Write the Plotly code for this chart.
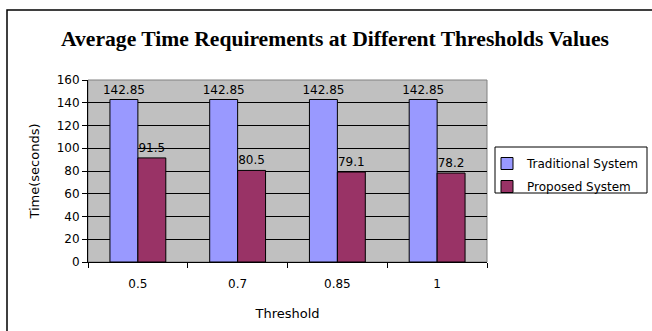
import plotly.graph_objects as go

# Threshold categories and average time (seconds) per system
thresholds = ["0.5", "0.7", "0.85", "1"]
traditional = [142.85, 142.85, 142.85, 142.85]
proposed = [91.5, 80.5, 79.1, 78.2]
y_ticks = [0, 20, 40, 60, 80, 100, 120, 140, 160]

W, H = 652, 331
L, R, T, B = 88, 165, 80, 69
pw, ph = W - L - R, H - T - B

SANS = "DejaVu Sans, Verdana, Arial"
label_font = dict(family=SANS, size=12, color="black")
title_font = dict(family=SANS, size=13, color="black")

fig = go.Figure()
fig.add_trace(go.Bar(
    name="Traditional System", x=thresholds, y=traditional,
    legendgroup="trad",
    marker=dict(color="#9999FF", line=dict(color="black", width=1)),
    text=[f"{v:g}" for v in traditional], textposition="outside",
    textfont=label_font, cliponaxis=False, constraintext="none",
))
fig.add_trace(go.Bar(
    name="Proposed System", x=thresholds, y=proposed,
    legendgroup="prop",
    marker=dict(color="#993366", line=dict(color="black", width=1)),
    text=[f"{v:g}" for v in proposed], textposition="outside",
    textfont=label_font, cliponaxis=False, constraintext="none",
))


def px_x(p):
    return (p - L) / pw


def px_y(p):
    return (H - B - p) / ph


fig.update_layout(
    width=W, height=H,
    margin=dict(l=L, r=R, t=T, b=B, autoexpand=False),
    paper_bgcolor="white",
    plot_bgcolor="#C0C0C0",
    barmode="group",
    bargap=0.44,
    bargroupgap=0,
    font=label_font,
    title=dict(
        text="<b>Average Time Requirements at Different Thresholds Values</b>",
        font=dict(family="Liberation Serif, Times New Roman", size=21.6, color="black"),
        xref="container", x=335 / W, xanchor="center",
        yref="container", y=1 - 38 / H, yanchor="middle",
    ),
    xaxis=dict(
        title=dict(text="Threshold", font=title_font, standoff=18),
        tickfont=label_font, ticklabelstandoff=11,
        showline=True, linecolor="black", linewidth=1,
        ticks="outside", ticklen=5, tickcolor="black", tickson="boundaries",
        showgrid=False, automargin=False,
    ),
    yaxis=dict(
        title=dict(text="Time(seconds)", font=title_font, standoff=14),
        range=[0, 160], tickvals=y_ticks, tickfont=label_font,
        showline=True, linecolor="black", linewidth=1,
        ticks="outside", ticklen=5, tickcolor="black",
        showgrid=True, gridcolor="black", gridwidth=1,
        zeroline=False, automargin=False,
    ),
    legend=dict(
        xref="container", yref="container",
        x=487 / W, y=1 - 149 / H, xanchor="left", yanchor="top",
        borderwidth=0, bgcolor="rgba(0,0,0,0)",
        font=label_font, tracegroupgap=4, itemwidth=30,
    ),
    shapes=[
        # gray frame of the plot area
        dict(type="rect", xref="paper", yref="paper", x0=0, x1=1, y0=0, y1=1,
             line=dict(color="#808080", width=1), layer="below"),
        # legend box
        dict(type="rect", xref="paper", yref="paper",
             x0=px_x(495), x1=px_x(647), y0=px_y(193), y1=px_y(147),
             line=dict(color="black", width=1), fillcolor="white", layer="below"),
        # outer chart border
        dict(type="rect", xref="paper", yref="paper",
             x0=px_x(7), x1=px_x(W + 10), y0=px_y(H + 10), y1=px_y(10),
             line=dict(color="black", width=1.5)),
    ],
)

fig.write_html("out.html")
